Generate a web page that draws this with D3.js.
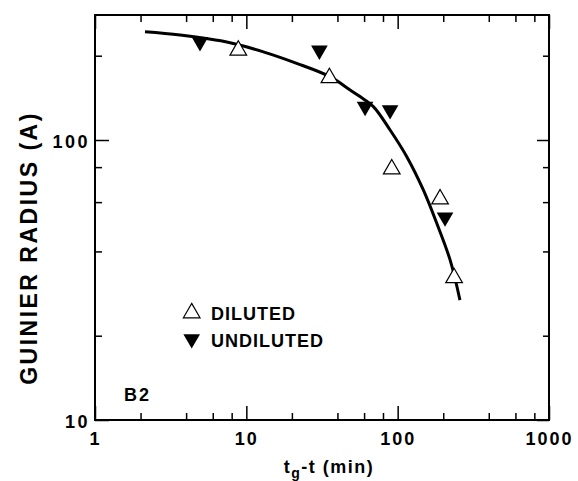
<!DOCTYPE html>
<html>
<head>
<meta charset="utf-8">
<script src="https://cdn.jsdelivr.net/npm/d3@7"></script>
<style>
  body { margin: 0; background: #fff; }
  svg { display: block; font-family: "Liberation Sans", Arial, sans-serif; font-weight: bold; }
</style>
</head>
<body>
<div class="graph-area"></div>
<script>
// values
var dilutedX = [8.85, 35.4, 91.4, 190.6, 236]
var dilutedY = [209, 166.7, 78.7, 61.5, 32.2]
var undilutedX = [4.94, 30.4, 60.9, 89.1, 205.6]
var undilutedY = [224, 209, 131.6, 128, 53]
var fitX = [2.14, 3.65, 7.8, 12.95, 21.5, 35.7, 48.5, 56.4, 69.1, 89.1, 114.9, 148, 181.3, 222, 258]
var fitY = [243.6, 237, 222.6, 206.5, 187.9, 168.3, 150.9, 142.9, 131.6, 108.6, 87.2, 66.2, 50.4, 37.3, 26.8]
var xMajor = [1, 10, 100, 1000]
var xMinor = [2, 4, 6, 8, 20, 40, 60, 80, 200, 400, 600, 800]
var yMajor = [10, 100]
var yMinor = [20, 40, 60, 80, 200]
var legendLabels = ['DILUTED', 'UNDILUTED']

var width = 578
var height = 481
// plot box edges (window.top is reserved, so not "top")
var boxLeft = 95
var boxRight = 549
var boxTop = 15
var boxBottom = 420

var svg = d3.select('.graph-area').append('svg')
  .attr('width', width)
  .attr('height', height)

var x = d3.scaleLog().domain([1, 1000]).range([boxLeft, boxRight])
var y = d3.scaleLog().domain([10, Math.pow(10, 1 + (boxBottom - boxTop) / 280)]).range([boxBottom, boxTop])

var putTicks = function (axis, transform) {
  var g = svg.append('g').attr('transform', transform).call(axis)
  g.select('.domain').remove()
  g.selectAll('line').attr('stroke', '#000').attr('stroke-width', 1.5)
  return g
}

// bottom
var bx = putTicks(d3.axisBottom(x).tickValues(xMajor).tickSize(-14).tickPadding(12).tickFormat(d3.format('d')), 'translate(0,' + boxBottom + ')')
putTicks(d3.axisBottom(x).tickValues(xMinor).tickSize(-7).tickFormat(''), 'translate(0,' + boxBottom + ')')
// top
putTicks(d3.axisTop(x).tickValues(xMajor).tickSize(-14).tickFormat(''), 'translate(0,' + boxTop + ')')
putTicks(d3.axisTop(x).tickValues(xMinor).tickSize(-7).tickFormat(''), 'translate(0,' + boxTop + ')')
// left
var ly = putTicks(d3.axisLeft(y).tickValues(yMajor).tickSize(-14).tickPadding(5).tickFormat(d3.format('d')), 'translate(' + boxLeft + ',0)')
putTicks(d3.axisLeft(y).tickValues(yMinor).tickSize(-7).tickFormat(''), 'translate(' + boxLeft + ',0)')
// right
putTicks(d3.axisRight(y).tickValues(yMajor).tickSize(-12).tickFormat(''), 'translate(' + boxRight + ',0)')
putTicks(d3.axisRight(y).tickValues(yMinor).tickSize(-6).tickFormat(''), 'translate(' + boxRight + ',0)')

bx.selectAll('text')
  .attr('font-size', '18px')
  .attr('font-weight', 'bold')
  .attr('font-family', '"Liberation Sans", Arial, sans-serif')
  .attr('letter-spacing', '2px')
  .attr('fill', '#000')
ly.selectAll('text')
  .attr('font-size', '18px')
  .attr('font-weight', 'bold')
  .attr('font-family', '"Liberation Sans", Arial, sans-serif')
  .attr('letter-spacing', '2.5px')
  .attr('fill', '#000')
  .attr('dy', '0.4em')

// frame
svg.append('rect')
  .attr('x', boxLeft)
  .attr('y', boxTop)
  .attr('width', boxRight - boxLeft)
  .attr('height', boxBottom - boxTop)
  .attr('fill', 'none')
  .attr('stroke', '#000')
  .attr('stroke-width', 2)

// fitted curve
var fitPoints = fitX.map(function (d, i) { return [d, fitY[i]] })
var line = d3.line()
  .x(function (d) { return x(d[0]) })
  .y(function (d) { return y(d[1]) })
  .curve(d3.curveCatmullRom)
svg.append('path')
  .attr('d', line(fitPoints))
  .attr('fill', 'none')
  .attr('stroke', '#000')
  .attr('stroke-width', 3)

var tri = d3.symbol().type(d3.symbolTriangle).size(120)

svg.selectAll('.undiluted')
  .data(undilutedX)
  .enter().append('path')
  .attr('class', 'undiluted')
  .attr('d', tri)
  .attr('transform', function (d, i) { return 'translate(' + x(d) + ',' + y(undilutedY[i]) + ') rotate(180)' })
  .attr('fill', '#000')

svg.selectAll('.diluted')
  .data(dilutedX)
  .enter().append('path')
  .attr('class', 'diluted')
  .attr('d', tri)
  .attr('transform', function (d, i) { return 'translate(' + x(d) + ',' + y(dilutedY[i]) + ')' })
  .attr('fill', '#fff')
  .attr('stroke', '#000')
  .attr('stroke-width', 1.2)

// legend
var legend = svg.append('g')
legend.append('path')
  .attr('d', tri)
  .attr('transform', 'translate(191.7,313)')
  .attr('fill', '#fff')
  .attr('stroke', '#000')
  .attr('stroke-width', 1.2)
legend.append('path')
  .attr('d', tri)
  .attr('transform', 'translate(191.7,339) rotate(180)')
  .attr('fill', '#000')
legend.selectAll('text')
  .data(legendLabels)
  .enter().append('text')
  .attr('x', 211)
  .attr('y', function (d, i) { return 319.5 + i * 27.5 })
  .attr('font-size', '18px')
  .attr('letter-spacing', '1px')
  .text(function (d) { return d })

svg.append('text')
  .attr('x', 124)
  .attr('y', 401)
  .attr('font-size', '18px')
  .attr('letter-spacing', '2px')
  .text('B2')

// axis titles
var xTitle = svg.append('text')
  .attr('x', 329)
  .attr('y', 473)
  .attr('text-anchor', 'middle')
  .attr('font-size', '18px')
  .attr('letter-spacing', '1.5px')
xTitle.append('tspan').text('t')
xTitle.append('tspan').attr('font-size', '14px').attr('dy', 5).text('g')
xTitle.append('tspan').attr('dy', -5).text('-t (min)')

svg.append('text')
  .attr('transform', 'translate(37,248) rotate(-90)')
  .attr('text-anchor', 'middle')
  .attr('font-size', '23px')
  .attr('letter-spacing', '2.5px')
  .text('GUINIER RADIUS (A)')
</script>
</body>
</html>
